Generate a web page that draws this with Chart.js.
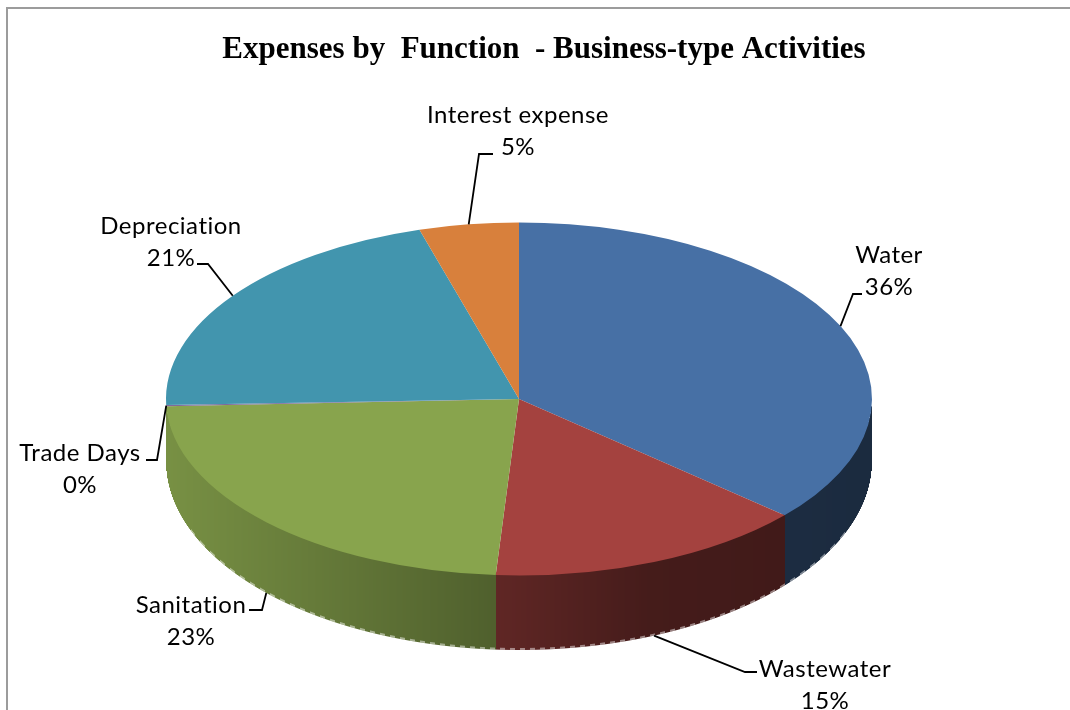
<!DOCTYPE html>
<html>
<head>
<meta charset="utf-8">
<title>Expenses by Function</title>
<script src="https://cdn.jsdelivr.net/npm/chart.js@4"></script>
<style>
  html, body { margin: 0; padding: 0; background: #fff; }
  #wrap { position: relative; width: 1070px; height: 710px; overflow: hidden; }
  #frame { position: absolute; left: 6px; top: 7px; width: 1200px; height: 800px; border: 2px solid #9c9c9c; }
  #myChart { position: absolute; left: 0; top: 0; }
</style>
</head>
<body>
<div id="wrap">
  <div id="frame"></div>
  <canvas id="myChart" width="1070" height="710"></canvas>
</div>
<script>
// Data
const chartTitle = "Expenses by  Function  - Business-type Activities";
const categories = ["Water", "Wastewater", "Sanitation", "Trade Days", "Depreciation", "Interest expense"];
const shares = [36.45, 14.6, 23.3, 0.1, 21.0, 4.55];
const sliceColors = ["#4770a5", "#a4423f", "#88a44d", "#7f6a9c", "#4295ae", "#d8803c"];

// Label boxes: text centre, y of first line, elbow of the leader line, end of the leader line
const labelLayout = [
  { x: 889, y: 255, elbow: [853, 294], end: [862, 294] },
  { x: 825, y: 669, elbow: [745, 672], end: [757, 672] },
  { x: 191, y: 605, elbow: [262, 610], end: [249, 610] },
  { x: 80, y: 453, elbow: [157, 460], end: [146, 460] },
  { x: 171, y: 226, elbow: [208, 264], end: [197, 264] },
  { x: 518, y: 115, elbow: [479, 154], end: [493, 154] },
];

// 3D look: ellipse squash and lower rim of the pie
const squash = 0.5;
const depthShift = 62;
const lowerRadiusY = 189;
// wall brightness along the x axis of the pie
const wallShade = [[167, 0.88], [500, 0.58], [650, 0.42], [872, 0.38]];

function shadeAt(x) {
  for (let i = 1; i < wallShade.length; i++) {
    if (x <= wallShade[i][0]) {
      const a = wallShade[i - 1], b = wallShade[i];
      return a[1] + (b[1] - a[1]) * (x - a[0]) / (b[0] - a[0]);
    }
  }
  return wallShade[wallShade.length - 1][1];
}

function darken(hex, f) {
  const n = parseInt(hex.slice(1), 16);
  return `rgb(${Math.round((n >> 16) * f)},${Math.round(((n >> 8) & 255) * f)},${Math.round((n & 255) * f)})`;
}

// finds the arc that holds an angle (chart.js angles, start at -PI/2)
function arcAtAngle(arcs, angle) {
  for (let i = 0; i < arcs.length; i++) {
    let a = angle;
    while (a < arcs[i].startAngle) a += Math.PI * 2;
    if (a <= arcs[i].endAngle) return i;
  }
  return 0;
}

const pie3dPlugin = {
  id: "pie3d",
  beforeDatasetsDraw(chart) {
    const ctx = chart.ctx;
    const arcs = chart.getDatasetMeta(0).data;
    const { x: cx, y: cy, outerRadius: r } = arcs[0];
    const ry = r * squash;
    // side wall, one column of pixels at a time
    for (let x = Math.ceil(cx - r); x <= cx + r; x++) {
      const dx = (x + 0.5 - cx) / r;
      if (Math.abs(dx) > 1) continue;
      const h = Math.sqrt(1 - dx * dx);
      const top = cy + ry * h;
      const bottom = cy + depthShift + lowerRadiusY * h;
      const i = arcAtAngle(arcs, Math.atan2(h, dx));
      ctx.fillStyle = darken(sliceColors[i], shadeAt(x));
      ctx.fillRect(x, top - 2, 1, bottom - top + 2);
      // pale jagged fringe on the lower rim
      if (x > 190 && x < 850 && x % 10 < 5) {
        ctx.fillStyle = "rgba(255,255,255,0.45)";
        ctx.fillRect(x, bottom - 2, 1, 2);
      }
    }
    // squash the pie that chart.js draws next
    ctx.save();
    ctx.translate(cx, cy);
    ctx.scale(1, squash);
    ctx.translate(-cx, -cy);
  },
  afterDatasetsDraw(chart) {
    const ctx = chart.ctx;
    ctx.restore();
    const arcs = chart.getDatasetMeta(0).data;

    ctx.save();
    ctx.fillStyle = "#000";
    ctx.font = "bold 31px 'Liberation Serif'";
    ctx.textAlign = "center";
    ctx.textBaseline = "middle";
    ctx.fillText(chartTitle, 544, 50);

    ctx.font = "24px Lato";
    ctx.letterSpacing = "0.5px";
    arcs.forEach((arc, i) => {
      const mid = (arc.startAngle + arc.endAngle) / 2;
      const c = Math.cos(mid), s = Math.sin(mid);
      // anchor sits on the lower rim for slices that face the viewer
      const onWall = s > 0.1;
      const ax = arc.x + arc.outerRadius * c;
      const ay = onWall ? arc.y + depthShift + lowerRadiusY * s : arc.y + arc.outerRadius * squash * s;
      const box = labelLayout[i];

      ctx.strokeStyle = "#000";
      ctx.lineWidth = 1.8;
      ctx.beginPath();
      ctx.moveTo(ax, ay);
      ctx.lineTo(box.elbow[0], box.elbow[1]);
      ctx.lineTo(box.end[0], box.end[1]);
      ctx.stroke();

      ctx.fillText(categories[i], box.x, box.y);
      ctx.fillText(Math.round(shares[i]) + "%", box.x, box.y + 32);
    });
    ctx.restore();
  },
};

const config = {
  type: "pie",
  data: {
    labels: categories,
    datasets: [{
      data: shares,
      backgroundColor: sliceColors,
      borderWidth: 0,
      radius: 353,
      clip: false,
    }],
  },
  options: {
    responsive: false,
    animation: false,
    events: [],
    layout: { padding: { top: 88, right: 32, left: 0, bottom: 0 } },
    plugins: { legend: { display: false }, tooltip: { enabled: false } },
  },
  plugins: [pie3dPlugin],
};

const myChart = new Chart(document.getElementById("myChart").getContext("2d"), config);
</script>
</body>
</html>
